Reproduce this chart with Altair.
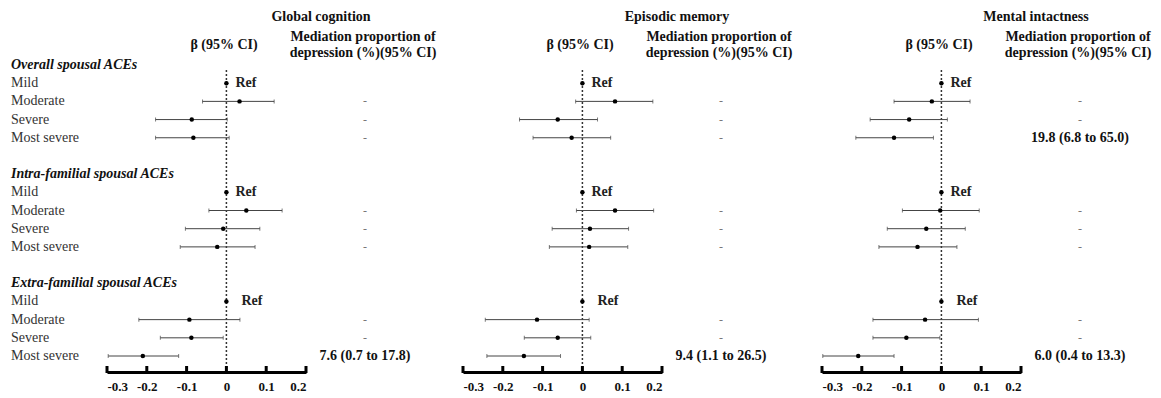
import altair as alt
import pandas as pd

sections = ["Overall spousal ACEs", "Intra-familial spousal ACEs", "Extra-familial spousal ACEs"]
levels = ["Mild", "Moderate", "Severe", "Most severe"]
outcomes = ["Global cognition", "Episodic memory", "Mental intactness"]

# section-major order: Overall (Mild..Most severe), Intra-familial, Extra-familial; Mild = Ref
gc_beta = [0, 0.033, -0.087, -0.083, 0, 0.050, -0.008, -0.023, 0, -0.093, -0.088, -0.210]
gc_lo = [0, -0.060, -0.178, -0.178, 0, -0.044, -0.103, -0.116, 0, -0.220, -0.166, -0.297]
gc_hi = [0, 0.120, 0.002, 0.007, 0, 0.140, 0.084, 0.072, 0, 0.034, -0.008, -0.120]
em_beta = [0, 0.082, -0.062, -0.027, 0, 0.082, 0.019, 0.017, 0, -0.114, -0.062, -0.147]
em_lo = [0, -0.017, -0.158, -0.124, 0, -0.015, -0.076, -0.083, 0, -0.244, -0.146, -0.240]
em_hi = [0, 0.177, 0.038, 0.071, 0, 0.179, 0.116, 0.114, 0, 0.017, 0.021, -0.055]
mi_beta = [0, -0.024, -0.081, -0.119, 0, -0.003, -0.038, -0.060, 0, -0.041, -0.088, -0.209]
mi_lo = [0, -0.119, -0.179, -0.215, 0, -0.098, -0.136, -0.157, 0, -0.172, -0.172, -0.298]
mi_hi = [0, 0.072, 0.015, -0.020, 0, 0.095, 0.060, 0.039, 0, 0.093, -0.004, -0.119]
gc_med = ["", "-", "-", "-", "", "-", "-", "-", "", "-", "-", "7.6 (0.7 to 17.8)"]
em_med = ["", "-", "-", "-", "", "-", "-", "-", "", "-", "-", "9.4 (1.1 to 26.5)"]
mi_med = ["", "-", "-", "19.8 (6.8 to 65.0)", "", "-", "-", "-", "", "-", "-", "6.0 (0.4 to 13.3)"]
tick_values = [-0.3, -0.2, -0.1, 0, 0.1, 0.2]

FONT = "Liberation Serif"
H = 364
FW = 199
yscale = alt.Scale(domain=[0, 16], range=[57, 348])


def rows_frame(beta, lo, hi, med):
    recs = []
    for i in range(12):
        s, l = divmod(i, 4)
        recs.append(dict(row=6 * s + 1 + l, section=sections[s], level=levels[l],
                         beta=beta[i], lo=lo[i], hi=hi[i], med=med[i],
                         ref="yes" if l == 0 else "no"))
    return pd.DataFrame(recs)


def panel(title, beta, lo, hi, med, width):
    df = rows_frame(beta, lo, hi, med)
    xs = alt.Scale(domain=[-0.3, 0.2], range=[0, FW], nice=False, zero=False)
    ax = alt.Axis(values=tick_values, ticks=False, grid=False, domainWidth=3,
                  domainColor="black", labelFont=FONT, labelFontWeight="bold",
                  labelFontSize=13, labelColor="#111", labelPadding=8,
                  labelExpr="datum.value == 0 ? '0' : replace(format(datum.value, '.1f'), '\u2212', '-')",
                  title=None)
    y = alt.Y("row:Q", scale=yscale, axis=None)
    base = alt.Chart(df)

    zero = alt.Chart(pd.DataFrame({"z": [0]})).mark_rule(
        color="#333", strokeWidth=1.5, strokeDash=[2, 2]
    ).encode(x=alt.X("z:Q", scale=xs, axis=ax), y=alt.value(62), y2=alt.value(H))

    ticks = alt.Chart(pd.DataFrame({"t": tick_values})).mark_rule(
        color="black", strokeWidth=3
    ).encode(x=alt.X("t:Q", scale=xs, axis=ax), y=alt.value(H - 6), y2=alt.value(H + 1))

    ci = base.mark_rule(color="#444", strokeWidth=1).encode(
        x=alt.X("lo:Q", scale=xs, axis=ax), x2="hi:Q", y=y)
    cap_lo = base.mark_tick(orient="vertical", size=4, thickness=1, color="#444").encode(
        x=alt.X("lo:Q", scale=xs, axis=ax), y=y)
    cap_hi = base.mark_tick(orient="vertical", size=4, thickness=1, color="#444").encode(
        x=alt.X("hi:Q", scale=xs, axis=ax), y=y)
    pts = base.mark_circle(size=20, color="black", opacity=1).encode(
        x=alt.X("beta:Q", scale=xs, axis=ax), y=y)

    ref1 = base.transform_filter(
        "datum.ref == 'yes' && datum.section != 'Extra-familial spousal ACEs'"
    ).mark_text(align="left", baseline="middle", dx=9, font=FONT, fontWeight="bold",
                fontSize=14, color="#222").encode(
        x=alt.X("beta:Q", scale=xs, axis=ax), y=y, text=alt.value("Ref"))
    ref2 = base.transform_filter(
        "datum.ref == 'yes' && datum.section == 'Extra-familial spousal ACEs'"
    ).mark_text(align="left", baseline="middle", dx=15, font=FONT, fontWeight="bold",
                fontSize=14, color="#222").encode(
        x=alt.X("beta:Q", scale=xs, axis=ax), y=y, text=alt.value("Ref"))

    dash = base.transform_filter("datum.med == '-'").mark_text(
        align="center", baseline="middle", font=FONT, fontSize=12, color="#777"
    ).encode(x=alt.value(258), y=y, text="med:N")
    val = base.transform_filter("datum.med != '-' && datum.med != ''").mark_text(
        align="center", baseline="middle", font=FONT, fontSize=14, fontWeight="bold",
        color="#111"
    ).encode(x=alt.value(258), y=y, text="med:N")

    hdr = pd.DataFrame({"title": [title], "beta": ["\u03b2 (95% CI)"],
                        "med": ["Mediation proportion of\ndepression (%)(95% CI)"]})
    t_title = alt.Chart(hdr).mark_text(
        align="center", baseline="middle", font=FONT, fontSize=14, fontWeight="bold",
        color="#111").encode(x=alt.value(214), y=alt.value(9), text="title:N")
    t_beta = alt.Chart(hdr).mark_text(
        align="center", baseline="middle", font=FONT, fontSize=14, fontWeight="bold",
        color="#111").encode(x=alt.value(117), y=alt.value(37), text="beta:N")
    t_med = alt.Chart(hdr).mark_text(
        align="center", baseline="middle", font=FONT, fontSize=14, fontWeight="bold",
        color="#111", lineBreak="\n", lineHeight=16).encode(
        x=alt.value(256), y=alt.value(29), text="med:N")

    return alt.layer(zero, ticks, ci, cap_lo, cap_hi, pts, ref1, ref2, dash, val,
                     t_title, t_beta, t_med).properties(width=width, height=H)


lab_recs = []
for s, sec in enumerate(sections):
    lab_recs.append(dict(row=6 * s, text=sec, kind="header"))
    for l, lev in enumerate(levels):
        lab_recs.append(dict(row=6 * s + 1 + l, text=lev, kind="level"))
lab_df = pd.DataFrame(lab_recs)
ly = alt.Y("row:Q", scale=yscale, axis=None)
lab_h = alt.Chart(lab_df).transform_filter("datum.kind == 'header'").mark_text(
    align="left", baseline="middle", font=FONT, fontSize=14, fontWeight="bold",
    fontStyle="italic", color="#111").encode(x=alt.value(3), y=ly, text="text:N")
lab_l = alt.Chart(lab_df).transform_filter("datum.kind == 'level'").mark_text(
    align="left", baseline="middle", font=FONT, fontSize=14, color="#333").encode(
    x=alt.value(3), y=ly, text="text:N")
labels = alt.layer(lab_h, lab_l).properties(width=99, height=H)

p1 = panel(outcomes[0], gc_beta, gc_lo, gc_hi, gc_med, 356)
p2 = panel(outcomes[1], em_beta, em_lo, em_hi, em_med, 359)
p3 = panel(outcomes[2], mi_beta, mi_lo, mi_hi, mi_med, 328)

chart = alt.hconcat(labels, p1, p2, p3, spacing=0, bounds="flush").properties(
    padding={"left": 0, "top": 0, "right": 0, "bottom": 0}, background="white"
).configure_view(stroke=None)

chart.save("out.html", embed_options={"renderer": "svg", "actions": False})
